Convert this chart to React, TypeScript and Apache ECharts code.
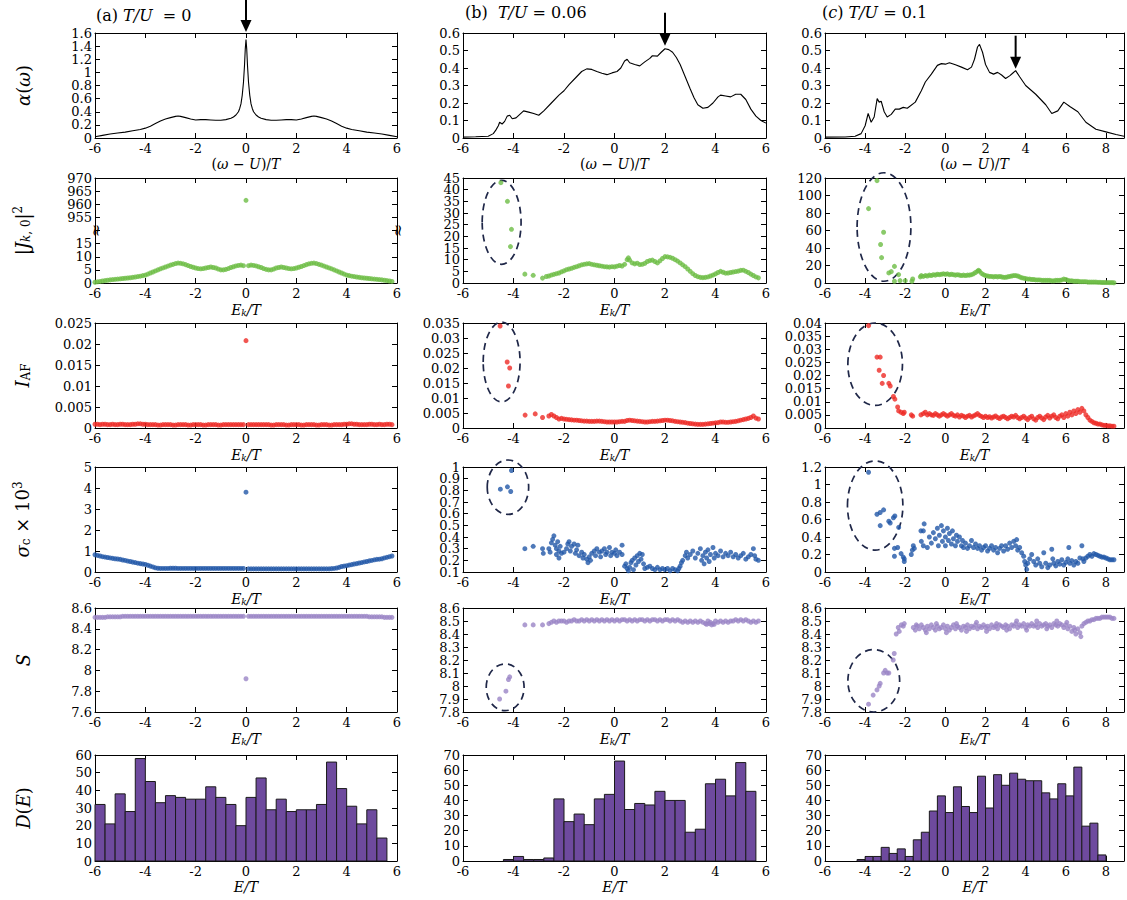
import React, { useEffect, useRef } from "react";
import * as echarts from "echarts";

// ---------------- data ----------------
// row 1: spectral function alpha(omega)
const alphaA: number[][] = [[-6,0.02],[-5.7,0.04],[-5.4,0.06],[-5.1,0.075],[-4.8,0.09],[-4.5,0.11],[-4.2,0.13],[-4,0.15],[-3.8,0.18],[-3.6,0.22],[-3.4,0.26],[-3.2,0.29],[-3,0.31],[-2.8,0.33],[-2.7,0.335],[-2.6,0.33],[-2.4,0.31],[-2.2,0.29],[-2,0.275],[-1.8,0.28],[-1.6,0.28],[-1.4,0.275],[-1.2,0.27],[-1,0.27],[-0.8,0.28],[-0.6,0.3],[-0.5,0.32],[-0.4,0.35],[-0.3,0.4],[-0.25,0.45],[-0.2,0.52],[-0.15,0.65],[-0.1,0.85],[-0.06,1.1],[-0.03,1.35],[0,1.5],[0.03,1.35],[0.06,1.1],[0.1,0.85],[0.15,0.65],[0.2,0.52],[0.25,0.45],[0.3,0.4],[0.4,0.35],[0.5,0.32],[0.6,0.3],[0.8,0.28],[1,0.27],[1.2,0.27],[1.4,0.275],[1.6,0.28],[1.8,0.28],[2,0.275],[2.2,0.29],[2.4,0.31],[2.6,0.33],[2.7,0.335],[2.8,0.33],[3,0.31],[3.2,0.29],[3.4,0.26],[3.6,0.22],[3.8,0.18],[4,0.15],[4.2,0.13],[4.5,0.11],[4.8,0.09],[5.1,0.075],[5.4,0.06],[5.7,0.04],[6,0.02]];
const alphaB: number[][] = [[-6,0.005],[-5.5,0.007],[-5,0.01],[-4.8,0.025],[-4.7,0.045],[-4.6,0.07],[-4.55,0.09],[-4.45,0.08],[-4.35,0.095],[-4.25,0.125],[-4.15,0.13],[-4.05,0.11],[-3.9,0.115],[-3.75,0.135],[-3.6,0.155],[-3.4,0.148],[-3.2,0.14],[-3,0.13],[-2.8,0.155],[-2.5,0.2],[-2.2,0.245],[-2,0.27],[-1.8,0.305],[-1.5,0.35],[-1.3,0.38],[-1.1,0.395],[-0.9,0.392],[-0.7,0.38],[-0.5,0.37],[-0.3,0.362],[-0.1,0.372],[0.1,0.38],[0.25,0.4],[0.4,0.44],[0.5,0.45],[0.6,0.43],[0.8,0.42],[1,0.412],[1.2,0.435],[1.4,0.455],[1.5,0.47],[1.7,0.468],[1.85,0.49],[2,0.51],[2.15,0.505],[2.3,0.49],[2.45,0.46],[2.6,0.42],[2.8,0.35],[3,0.28],[3.15,0.23],[3.3,0.19],[3.5,0.17],[3.7,0.175],[3.9,0.2],[4.1,0.235],[4.2,0.245],[4.4,0.24],[4.6,0.235],[4.8,0.25],[5,0.25],[5.2,0.22],[5.4,0.165],[5.6,0.125],[5.8,0.1],[6,0.085]];
const alphaC: number[][] = [[-6,0.005],[-5,0.006],[-4.5,0.01],[-4.2,0.025],[-4,0.07],[-3.85,0.14],[-3.7,0.09],[-3.55,0.12],[-3.4,0.225],[-3.3,0.205],[-3.2,0.21],[-3.05,0.15],[-2.9,0.12],[-2.7,0.135],[-2.5,0.165],[-2.3,0.165],[-2.1,0.175],[-1.9,0.17],[-1.5,0.205],[-1.2,0.27],[-1,0.32],[-0.7,0.365],[-0.4,0.415],[-0.2,0.425],[0,0.422],[0.2,0.43],[0.5,0.418],[0.8,0.405],[1.1,0.39],[1.3,0.405],[1.45,0.45],[1.6,0.52],[1.7,0.535],[1.85,0.49],[2,0.42],[2.2,0.375],[2.4,0.365],[2.6,0.375],[2.8,0.36],[3,0.34],[3.2,0.355],[3.35,0.37],[3.5,0.385],[3.7,0.35],[4,0.3],[4.5,0.25],[5,0.19],[5.3,0.14],[5.6,0.155],[5.9,0.205],[6.2,0.18],[6.6,0.15],[7,0.09],[7.5,0.05],[8,0.035],[8.5,0.02],[8.9,0.01]];
const arrowTips: number[][] = [[0, 1.615], [2, 0.527], [3.5, 0.396]];

// row 2: |J_{k,0}|^2
const jA: number[][] = [[-6,0.3],[-5.9,0.45],[-5.8,0.6],[-5.7,0.75],[-5.6,0.9],[-5.5,1.05],[-5.4,1.2],[-5.3,1.3],[-5.2,1.4],[-5.1,1.5],[-5,1.6],[-4.9,1.7],[-4.8,1.8],[-4.7,1.9],[-4.6,2],[-4.5,2.15],[-4.4,2.3],[-4.3,2.45],[-4.2,2.6],[-4.1,2.8],[-4,3],[-3.9,3.4],[-3.8,3.8],[-3.7,4.2],[-3.6,4.6],[-3.5,5],[-3.4,5.4],[-3.3,5.75],[-3.2,6.1],[-3.1,6.45],[-3,6.8],[-2.9,7.1],[-2.8,7.4],[-2.7,7.6],[-2.6,7.5],[-2.5,7.3],[-2.4,7],[-2.3,6.65],[-2.2,6.3],[-2.1,6],[-2,5.7],[-1.9,5.5],[-1.8,5.4],[-1.7,5.5],[-1.6,5.7],[-1.5,5.9],[-1.4,6.1],[-1.3,5.9],[-1.2,5.7],[-1.1,5.3],[-1,5],[-0.9,5],[-0.8,5.2],[-0.7,5.5],[-0.6,5.9],[-0.5,6.2],[-0.4,6.5],[-0.3,6.7],[-0.2,6.8],[-0.1,6.6],[0,961.5],[0.1,6.6],[0.2,6.8],[0.3,6.7],[0.4,6.5],[0.5,6.2],[0.6,5.9],[0.7,5.5],[0.8,5.2],[0.9,5],[1,5],[1.1,5.3],[1.2,5.7],[1.3,5.9],[1.4,6.1],[1.5,5.9],[1.6,5.7],[1.7,5.5],[1.8,5.4],[1.9,5.5],[2,5.7],[2.1,6],[2.2,6.3],[2.3,6.65],[2.4,7],[2.5,7.3],[2.6,7.5],[2.7,7.6],[2.8,7.4],[2.9,7.1],[3,6.8],[3.1,6.45],[3.2,6.1],[3.3,5.75],[3.4,5.4],[3.5,5],[3.6,4.6],[3.7,4.2],[3.8,3.8],[3.9,3.4],[4,3],[4.1,2.8],[4.2,2.6],[4.3,2.45],[4.4,2.3],[4.5,2.15],[4.6,2],[4.7,1.9],[4.8,1.8],[4.9,1.7],[5,1.6],[5.1,1.5],[5.2,1.4],[5.3,1.3],[5.4,1.2],[5.5,1.05],[5.6,0.9],[5.7,0.75],[5.8,0.6]];
const jB: number[][] = [[-4.5,43],[-4.24,35],[-4.08,23],[-4.12,15.6],[-3.55,3.8],[-3.22,3.3],[-2.85,2.1],[-2.7,2.8],[-2.6,3],[-2.5,3.4],[-2.4,3.7],[-2.3,4],[-2.2,4.3],[-2.1,4.8],[-2,5.2],[-1.9,5.7],[-1.8,6],[-1.7,6.3],[-1.6,6.7],[-1.5,7],[-1.4,7.4],[-1.3,7.8],[-1.2,8],[-1.1,8.2],[-1,8.3],[-0.9,8],[-0.8,7.8],[-0.7,7.6],[-0.6,7.4],[-0.5,7.2],[-0.4,7],[-0.3,6.9],[-0.2,6.8],[-0.1,7],[0,6.9],[0.1,7.2],[0.2,7.5],[0.3,7.3],[0.4,8],[0.5,10],[0.55,10.8],[0.6,9.8],[0.7,8.6],[0.8,8.2],[0.9,8.5],[1,7.9],[1.1,8],[1.2,8.4],[1.3,9.2],[1.4,9.6],[1.5,9.8],[1.6,9.2],[1.7,8.6],[1.8,9.5],[1.9,10.5],[2,11.3],[2.1,11.2],[2.2,11],[2.3,10.6],[2.4,10],[2.5,9.4],[2.6,8.6],[2.7,7.8],[2.8,7],[2.9,6],[3,5],[3.1,4],[3.2,3.2],[3.3,2.7],[3.4,2.4],[3.5,2.3],[3.6,2.4],[3.7,2.6],[3.8,3],[3.9,3.4],[4,3.9],[4.1,4.5],[4.2,5],[4.3,4.6],[4.4,4.2],[4.5,4.3],[4.6,4.5],[4.7,4.7],[4.8,4.9],[4.9,5.1],[5,5.4],[5.1,5.5],[5.2,5],[5.3,4.5],[5.4,3.8],[5.5,3.2],[5.6,2.6],[5.7,2.2]];
const jC: number[][] = [[-3.41,117],[-3.83,85],[-3.08,58],[-3.23,44],[-3.18,29],[-2.82,11.5],[-2.7,13],[-2.54,19],[-2.54,2],[-2.33,9.6],[-2.26,2.7],[-2,2.7],[-1.63,4.6],[-1.67,2],[-1.25,7],[-1.2,8.5],[-1.1,7.5],[-1,8.5],[-0.9,8],[-0.8,9],[-0.7,8.5],[-0.6,9.5],[-0.5,9],[-0.4,10],[-0.3,9.5],[-0.2,10],[-0.1,10.5],[0,10],[0.1,10.5],[0.2,9.5],[0.3,10],[0.4,9.5],[0.5,9],[0.6,9.5],[0.7,9],[0.8,8.5],[0.9,9],[1,8.5],[1.1,9],[1.2,9],[1.3,9.5],[1.4,10.5],[1.5,12],[1.6,13.5],[1.65,14.5],[1.7,13.5],[1.8,11],[1.9,9.5],[2,8.5],[2.1,8],[2.2,7.5],[2.3,7.5],[2.4,7],[2.5,7.5],[2.6,7],[2.7,7.5],[2.8,7],[2.9,6.5],[3,6.5],[3.1,7],[3.2,7.5],[3.3,8],[3.4,8.5],[3.5,8.5],[3.6,8],[3.7,7],[3.8,6],[3.9,5.5],[4,5],[4.1,4.5],[4.2,4.5],[4.3,4],[4.4,4],[4.5,3.5],[4.6,3.5],[4.7,3.5],[4.8,3],[4.9,3],[5,3],[5.1,3],[5.2,3],[5.3,2.5],[5.4,2.5],[5.5,3],[5.6,3],[5.7,3],[5.8,3.5],[5.9,4.5],[6,4],[6.1,3],[6.2,2.5],[6.3,2.5],[6.4,2],[6.5,2],[6.6,2],[6.7,1.5],[6.8,1.5],[6.9,1.5],[7,1.5],[7.1,1],[7.2,1],[7.3,1],[7.4,1],[7.5,1],[7.6,0.8],[7.7,0.8],[7.8,0.6],[7.9,0.6],[8,0.5],[8.1,0.5],[8.2,0.4],[8.3,0.4],[8.4,0.3]];

// row 3: I_AF
const iA: number[][] = [[-6,0.0009],[-5.9,0.0009],[-5.8,0.0008],[-5.7,0.0009],[-5.6,0.0009],[-5.5,0.0008],[-5.4,0.0008],[-5.3,0.0009],[-5.2,0.0008],[-5.1,0.0008],[-5,0.0009],[-4.9,0.0009],[-4.8,0.0008],[-4.7,0.0008],[-4.6,0.0008],[-4.5,0.0009],[-4.4,0.0009],[-4.3,0.001],[-4.2,0.001],[-4.1,0.0009],[-4,0.0009],[-3.9,0.0008],[-3.8,0.0008],[-3.7,0.0008],[-3.6,0.0008],[-3.5,0.0007],[-3.4,0.0007],[-3.3,0.0008],[-3.2,0.0008],[-3.1,0.0008],[-3,0.0008],[-2.9,0.0007],[-2.8,0.0007],[-2.7,0.0008],[-2.6,0.0008],[-2.5,0.0008],[-2.4,0.0008],[-2.3,0.0007],[-2.2,0.0007],[-2.1,0.0008],[-2,0.0008],[-1.9,0.0008],[-1.8,0.0008],[-1.7,0.0007],[-1.6,0.0007],[-1.5,0.0008],[-1.4,0.0008],[-1.3,0.0008],[-1.2,0.0008],[-1.1,0.0007],[-1,0.0007],[-0.9,0.0008],[-0.8,0.0008],[-0.7,0.0008],[-0.6,0.0008],[-0.5,0.0008],[-0.4,0.0008],[-0.3,0.0008],[-0.2,0.0008],[-0.1,0.0008],[0,0.0208],[0.1,0.0008],[0.2,0.0008],[0.3,0.0008],[0.4,0.0008],[0.5,0.0008],[0.6,0.0008],[0.7,0.0008],[0.8,0.0008],[0.9,0.0008],[1,0.0007],[1.1,0.0007],[1.2,0.0008],[1.3,0.0008],[1.4,0.0008],[1.5,0.0008],[1.6,0.0007],[1.7,0.0007],[1.8,0.0008],[1.9,0.0008],[2,0.0008],[2.1,0.0008],[2.2,0.0007],[2.3,0.0007],[2.4,0.0008],[2.5,0.0008],[2.6,0.0008],[2.7,0.0008],[2.8,0.0007],[2.9,0.0007],[3,0.0008],[3.1,0.0008],[3.2,0.0008],[3.3,0.0007],[3.4,0.0007],[3.5,0.0008],[3.6,0.0008],[3.7,0.0008],[3.8,0.0008],[3.9,0.0009],[4,0.0009],[4.1,0.001],[4.2,0.001],[4.3,0.0009],[4.4,0.0009],[4.5,0.0008],[4.6,0.0008],[4.7,0.0008],[4.8,0.0008],[4.9,0.0009],[5,0.0009],[5.1,0.0008],[5.2,0.0008],[5.3,0.0009],[5.4,0.0008],[5.5,0.0008],[5.6,0.0009],[5.7,0.0009],[5.8,0.0008]];
const iB: number[][] = [[-4.53,0.034],[-4.25,0.022],[-4.15,0.02],[-4.2,0.014],[-3.54,0.0043],[-3.14,0.0047],[-2.85,0.0035],[-2.6,0.004],[-2.5,0.0045],[-2.4,0.004],[-2.3,0.0035],[-2.2,0.003],[-2.1,0.0032],[-2,0.003],[-1.9,0.0029],[-1.8,0.0028],[-1.7,0.0027],[-1.6,0.0026],[-1.5,0.0026],[-1.4,0.0025],[-1.3,0.0024],[-1.2,0.0023],[-1.1,0.0023],[-1,0.0022],[-0.9,0.0022],[-0.8,0.0022],[-0.7,0.0023],[-0.6,0.0023],[-0.5,0.0022],[-0.4,0.0021],[-0.3,0.002],[-0.2,0.002],[-0.1,0.002],[0,0.002],[0.1,0.002],[0.2,0.0021],[0.3,0.0022],[0.4,0.0022],[0.5,0.0025],[0.6,0.0026],[0.7,0.0025],[0.8,0.0024],[0.9,0.0023],[1,0.0022],[1.1,0.0021],[1.2,0.002],[1.3,0.002],[1.4,0.0021],[1.5,0.0022],[1.6,0.0022],[1.7,0.0023],[1.8,0.0024],[1.9,0.0025],[2,0.0026],[2.1,0.0026],[2.2,0.0025],[2.3,0.0024],[2.4,0.0022],[2.5,0.0021],[2.6,0.002],[2.7,0.0019],[2.8,0.0018],[2.9,0.0016],[3,0.0015],[3.1,0.0014],[3.2,0.0013],[3.3,0.0012],[3.4,0.0012],[3.5,0.0012],[3.6,0.0013],[3.7,0.0014],[3.8,0.0015],[3.9,0.0016],[4,0.0017],[4.1,0.0018],[4.2,0.002],[4.3,0.002],[4.4,0.0019],[4.5,0.0019],[4.6,0.002],[4.7,0.0021],[4.8,0.0022],[4.9,0.0024],[5,0.0026],[5.1,0.0028],[5.2,0.003],[5.3,0.0032],[5.4,0.0035],[5.5,0.004],[5.6,0.0033],[5.7,0.003]];
const iC: number[][] = [[-3.83,0.039],[-3.41,0.027],[-3.25,0.027],[-3.3,0.022],[-3.08,0.02],[-3.15,0.017],[-2.82,0.017],[-2.75,0.016],[-2.59,0.012],[-2.52,0.011],[-2.38,0.008],[-2.33,0.0065],[-2.21,0.006],[-2.1,0.0055],[-2.05,0.006],[-1.7,0.005],[-1.63,0.0045],[-1.22,0.005],[-1.1,0.0055],[-1,0.006],[-0.9,0.005],[-0.8,0.0055],[-0.7,0.005],[-0.6,0.0048],[-0.5,0.0055],[-0.4,0.005],[-0.3,0.0045],[-0.2,0.005],[-0.1,0.0055],[0,0.005],[0.1,0.0045],[0.2,0.005],[0.3,0.0055],[0.4,0.0048],[0.5,0.0045],[0.6,0.005],[0.7,0.0042],[0.8,0.0048],[0.9,0.0045],[1,0.004],[1.1,0.0045],[1.2,0.0048],[1.3,0.0042],[1.4,0.0046],[1.5,0.005],[1.6,0.0055],[1.7,0.0048],[1.8,0.0044],[1.9,0.004],[2,0.0045],[2.1,0.004],[2.2,0.0043],[2.3,0.0038],[2.4,0.0042],[2.5,0.0046],[2.6,0.004],[2.7,0.0036],[2.8,0.0042],[2.9,0.0045],[3,0.004],[3.1,0.0035],[3.2,0.004],[3.3,0.0045],[3.4,0.0042],[3.5,0.0048],[3.6,0.004],[3.7,0.0035],[3.8,0.004],[3.9,0.0045],[4,0.0038],[4.1,0.0032],[4.2,0.004],[4.3,0.0045],[4.4,0.0035],[4.5,0.003],[4.6,0.004],[4.7,0.0045],[4.8,0.0038],[4.9,0.0032],[5,0.0042],[5.1,0.0048],[5.2,0.0038],[5.3,0.0045],[5.4,0.005],[5.5,0.004],[5.6,0.0035],[5.7,0.0045],[5.8,0.005],[5.9,0.004],[6,0.0055],[6.1,0.0045],[6.2,0.006],[6.3,0.005],[6.4,0.0065],[6.5,0.0055],[6.6,0.007],[6.7,0.006],[6.8,0.0075],[6.9,0.0065],[7,0.005],[7.1,0.004],[7.2,0.003],[7.3,0.0025],[7.4,0.002],[7.5,0.0018],[7.6,0.0015],[7.7,0.0015],[7.8,0.0012],[7.9,0.001],[8,0.001],[8.1,0.0008],[8.2,0.0008],[8.3,0.0007],[8.4,0.0007]];

// row 4: sigma_c x 10^3
const sigA: number[][] = [[-6,0.82],[-5.9,0.79],[-5.8,0.76],[-5.7,0.73],[-5.6,0.71],[-5.5,0.69],[-5.4,0.67],[-5.3,0.65],[-5.2,0.63],[-5.1,0.62],[-5,0.6],[-4.9,0.57],[-4.8,0.55],[-4.7,0.52],[-4.6,0.5],[-4.5,0.47],[-4.4,0.45],[-4.3,0.42],[-4.2,0.4],[-4.1,0.38],[-4,0.36],[-3.9,0.32],[-3.8,0.28],[-3.7,0.24],[-3.6,0.2],[-3.5,0.18],[-3.4,0.17],[-3.3,0.17],[-3.2,0.17],[-3.1,0.17],[-3,0.18],[-2.9,0.18],[-2.8,0.18],[-2.7,0.17],[-2.6,0.17],[-2.5,0.17],[-2.4,0.17],[-2.3,0.17],[-2.2,0.17],[-2.1,0.17],[-2,0.17],[-1.9,0.17],[-1.8,0.17],[-1.7,0.17],[-1.6,0.17],[-1.5,0.17],[-1.4,0.17],[-1.3,0.17],[-1.2,0.17],[-1.1,0.17],[-1,0.17],[-0.9,0.17],[-0.8,0.17],[-0.7,0.17],[-0.6,0.17],[-0.5,0.17],[-0.4,0.17],[-0.3,0.17],[-0.2,0.17],[-0.1,0.17],[0,3.8],[0.1,0.15],[0.2,0.15],[0.3,0.15],[0.4,0.15],[0.5,0.15],[0.6,0.15],[0.7,0.15],[0.8,0.15],[0.9,0.15],[1,0.15],[1.1,0.15],[1.2,0.15],[1.3,0.15],[1.4,0.15],[1.5,0.15],[1.6,0.15],[1.7,0.15],[1.8,0.15],[1.9,0.15],[2,0.15],[2.1,0.15],[2.2,0.15],[2.3,0.15],[2.4,0.15],[2.5,0.15],[2.6,0.15],[2.7,0.15],[2.8,0.15],[2.9,0.15],[3,0.15],[3.1,0.15],[3.2,0.15],[3.3,0.15],[3.4,0.16],[3.5,0.17],[3.6,0.19],[3.7,0.22],[3.8,0.26],[3.9,0.28],[4,0.3],[4.1,0.33],[4.2,0.35],[4.3,0.38],[4.4,0.4],[4.5,0.43],[4.6,0.45],[4.7,0.48],[4.8,0.5],[4.9,0.53],[5,0.55],[5.1,0.58],[5.2,0.6],[5.3,0.61],[5.4,0.63],[5.5,0.67],[5.6,0.7],[5.7,0.73],[5.8,0.76]];
const sigB: number[][] = [[-4.52,0.81],[-4.24,0.83],[-4.11,0.79],[-4.08,0.97],[-3.55,0.3],[-3.22,0.32],[-2.85,0.3],[-2.82,0.26],[-2.6,0.3],[-2.55,0.27],[-2.5,0.35],[-2.45,0.38],[-2.4,0.41],[-2.35,0.33],[-2.3,0.25],[-2.3,0.3],[-2.25,0.36],[-2.2,0.28],[-2.2,0.22],[-2.15,0.32],[-2.1,0.26],[-2,0.27],[-1.9,0.3],[-1.85,0.34],[-1.8,0.36],[-1.75,0.28],[-1.7,0.32],[-1.6,0.34],[-1.55,0.26],[-1.5,0.29],[-1.45,0.33],[-1.4,0.24],[-1.3,0.27],[-1.25,0.22],[-1.2,0.25],[-1.1,0.21],[-1.05,0.18],[-1,0.23],[-0.95,0.2],[-0.9,0.26],[-0.8,0.28],[-0.75,0.24],[-0.7,0.3],[-0.6,0.27],[-0.55,0.23],[-0.5,0.28],[-0.4,0.3],[-0.35,0.25],[-0.3,0.27],[-0.2,0.31],[-0.15,0.24],[-0.1,0.27],[0,0.26],[0.05,0.29],[0.1,0.24],[0.2,0.27],[0.3,0.33],[0.3,0.25],[0.4,0.15],[0.45,0.17],[0.5,0.13],[0.55,0.11],[0.6,0.14],[0.65,0.18],[0.7,0.2],[0.75,0.12],[0.8,0.22],[0.85,0.16],[0.9,0.24],[0.95,0.19],[1,0.26],[1.05,0.21],[1.1,0.25],[1.15,0.17],[1.2,0.13],[1.3,0.14],[1.4,0.15],[1.5,0.13],[1.6,0.12],[1.7,0.14],[1.8,0.12],[1.9,0.13],[2,0.12],[2.1,0.13],[2.2,0.11],[2.3,0.13],[2.4,0.12],[2.5,0.11],[2.55,0.13],[2.6,0.15],[2.65,0.18],[2.7,0.2],[2.8,0.24],[2.85,0.27],[2.9,0.22],[3,0.25],[3.1,0.28],[3.2,0.22],[3.3,0.26],[3.4,0.3],[3.45,0.2],[3.5,0.24],[3.55,0.17],[3.6,0.27],[3.65,0.22],[3.7,0.29],[3.75,0.19],[3.8,0.25],[3.9,0.31],[3.95,0.22],[4,0.26],[4.1,0.24],[4.2,0.28],[4.3,0.23],[4.4,0.26],[4.5,0.24],[4.6,0.27],[4.7,0.23],[4.8,0.25],[4.9,0.22],[5,0.24],[5.1,0.26],[5.2,0.21],[5.3,0.23],[5.4,0.25],[5.5,0.3],[5.55,0.24],[5.6,0.21],[5.7,0.2]];
const sigC: number[][] = [[-3.83,1.14],[-3.41,0.66],[-3.25,0.68],[-3.08,0.71],[-3.25,0.53],[-2.82,0.58],[-2.75,0.56],[-2.59,0.62],[-2.52,0.64],[-2.33,0.51],[-2.54,0.27],[-2.38,0.28],[-2.54,0.18],[-2.21,0.21],[-2.1,0.17],[-2.05,0.15],[-2.05,0.12],[-1.7,0.2],[-1.65,0.25],[-1.6,0.3],[-1.55,0.27],[-1.22,0.47],[-1.1,0.47],[-1.06,0.55],[-1.2,0.35],[-1.1,0.3],[-0.9,0.28],[-0.8,0.4],[-0.7,0.33],[-0.6,0.45],[-0.5,0.38],[-0.4,0.5],[-0.35,0.3],[-0.3,0.42],[-0.2,0.53],[-0.15,0.35],[-0.1,0.47],[0,0.4],[0,0.3],[0.1,0.5],[0.15,0.36],[0.2,0.44],[0.3,0.32],[0.35,0.47],[0.4,0.38],[0.5,0.3],[0.55,0.42],[0.6,0.35],[0.7,0.4],[0.8,0.3],[0.85,0.36],[0.9,0.28],[1,0.33],[1.1,0.27],[1.2,0.3],[1.3,0.36],[1.4,0.28],[1.5,0.32],[1.6,0.27],[1.7,0.3],[1.8,0.25],[1.9,0.28],[2,0.3],[2.1,0.24],[2.2,0.27],[2.3,0.3],[2.4,0.25],[2.5,0.28],[2.6,0.22],[2.7,0.27],[2.8,0.3],[2.9,0.24],[3,0.3],[3.1,0.26],[3.2,0.33],[3.3,0.28],[3.4,0.35],[3.5,0.3],[3.55,0.37],[3.6,0.25],[3.7,0.28],[3.8,0.22],[3.9,0.18],[3.95,0.12],[4,0.08],[4.05,0.03],[4.1,0.1],[4.2,0.15],[4.3,0.2],[4.4,0.12],[4.5,0.08],[4.6,0.15],[4.7,0.1],[4.8,0.06],[4.9,0.22],[5,0.1],[5.1,0.05],[5.2,0.08],[5.3,0.26],[5.35,0.15],[5.4,0.1],[5.5,0.07],[5.6,0.12],[5.7,0.09],[5.8,0.14],[5.9,0.08],[6,0.11],[6.1,0.15],[6.15,0.28],[6.2,0.1],[6.3,0.13],[6.4,0.08],[6.5,0.12],[6.6,0.1],[6.7,0.16],[6.8,0.3],[6.85,0.15],[6.9,0.12],[7,0.16],[7.1,0.18],[7.2,0.2],[7.3,0.18],[7.4,0.21],[7.5,0.2],[7.6,0.19],[7.7,0.18],[7.8,0.17],[7.9,0.17],[8,0.16],[8.1,0.15],[8.2,0.14],[8.3,0.14],[8.4,0.14]];

// row 5: S
const sA: number[][] = [[-6,8.51],[-5.9,8.51],[-5.8,8.51],[-5.7,8.51],[-5.6,8.51],[-5.5,8.515],[-5.4,8.515],[-5.3,8.515],[-5.2,8.515],[-5.1,8.515],[-5,8.515],[-4.9,8.52],[-4.8,8.52],[-4.7,8.52],[-4.6,8.52],[-4.5,8.52],[-4.4,8.52],[-4.3,8.52],[-4.2,8.52],[-4.1,8.52],[-4,8.52],[-3.9,8.52],[-3.8,8.52],[-3.7,8.52],[-3.6,8.52],[-3.5,8.52],[-3.4,8.52],[-3.3,8.52],[-3.2,8.52],[-3.1,8.52],[-3,8.52],[-2.9,8.52],[-2.8,8.52],[-2.7,8.52],[-2.6,8.52],[-2.5,8.52],[-2.4,8.52],[-2.3,8.52],[-2.2,8.52],[-2.1,8.52],[-2,8.52],[-1.9,8.52],[-1.8,8.52],[-1.7,8.52],[-1.6,8.52],[-1.5,8.52],[-1.4,8.52],[-1.3,8.52],[-1.2,8.52],[-1.1,8.52],[-1,8.52],[-0.9,8.52],[-0.8,8.52],[-0.7,8.52],[-0.6,8.52],[-0.5,8.52],[-0.4,8.52],[-0.3,8.52],[-0.2,8.52],[-0.1,8.52],[0,7.92],[0.1,8.52],[0.2,8.52],[0.3,8.52],[0.4,8.52],[0.5,8.52],[0.6,8.52],[0.7,8.52],[0.8,8.52],[0.9,8.52],[1,8.52],[1.1,8.52],[1.2,8.52],[1.3,8.52],[1.4,8.52],[1.5,8.52],[1.6,8.52],[1.7,8.52],[1.8,8.52],[1.9,8.52],[2,8.52],[2.1,8.52],[2.2,8.52],[2.3,8.52],[2.4,8.52],[2.5,8.52],[2.6,8.52],[2.7,8.52],[2.8,8.52],[2.9,8.52],[3,8.52],[3.1,8.52],[3.2,8.52],[3.3,8.52],[3.4,8.52],[3.5,8.52],[3.6,8.52],[3.7,8.52],[3.8,8.52],[3.9,8.52],[4,8.52],[4.1,8.52],[4.2,8.52],[4.3,8.52],[4.4,8.52],[4.5,8.52],[4.6,8.52],[4.7,8.52],[4.8,8.52],[4.9,8.515],[5,8.515],[5.1,8.515],[5.2,8.515],[5.3,8.515],[5.4,8.515],[5.5,8.51],[5.6,8.51],[5.7,8.51],[5.8,8.51]];
const sB: number[][] = [[-4.55,7.9],[-4.3,7.96],[-4.2,8.05],[-4.15,8.07],[-3.55,8.47],[-3.22,8.47],[-2.85,8.47],[-2.6,8.48],[-2.5,8.49],[-2.4,8.5],[-2.3,8.49],[-2.2,8.5],[-2.1,8.5],[-2,8.5],[-1.9,8.49],[-1.8,8.5],[-1.7,8.5],[-1.6,8.51],[-1.5,8.5],[-1.4,8.5],[-1.3,8.51],[-1.2,8.5],[-1.1,8.51],[-1,8.5],[-0.9,8.51],[-0.8,8.5],[-0.7,8.51],[-0.6,8.5],[-0.5,8.51],[-0.4,8.5],[-0.3,8.51],[-0.2,8.5],[-0.1,8.51],[0,8.5],[0.1,8.51],[0.2,8.5],[0.3,8.51],[0.4,8.51],[0.5,8.5],[0.6,8.51],[0.7,8.5],[0.8,8.51],[0.9,8.5],[1,8.51],[1.1,8.51],[1.2,8.5],[1.3,8.51],[1.4,8.5],[1.5,8.51],[1.6,8.51],[1.7,8.5],[1.8,8.51],[1.9,8.5],[2,8.51],[2.1,8.51],[2.2,8.5],[2.3,8.51],[2.4,8.5],[2.5,8.51],[2.6,8.5],[2.7,8.49],[2.8,8.5],[2.9,8.49],[3,8.5],[3.1,8.49],[3.2,8.5],[3.3,8.49],[3.4,8.5],[3.5,8.49],[3.6,8.48],[3.7,8.5],[3.8,8.49],[3.9,8.48],[4,8.5],[4.1,8.49],[4.2,8.5],[4.3,8.49],[4.4,8.5],[4.5,8.49],[4.6,8.5],[4.7,8.5],[4.8,8.51],[4.9,8.5],[5,8.51],[5.1,8.5],[5.2,8.51],[5.3,8.5],[5.4,8.49],[5.5,8.5],[5.6,8.49],[5.7,8.5],[3.65,8.475],[3.75,8.48],[3.85,8.47],[3.95,8.475]];
const sC: number[][] = [[-3.83,7.86],[-3.6,7.93],[-3.41,7.97],[-3.3,8],[-3.25,8.02],[-3.08,8.1],[-3,8.12],[-2.9,8.1],[-2.82,8.1],[-2.6,8.2],[-2.55,8.25],[-2.45,8.4],[-2.35,8.45],[-2.3,8.42],[-2.2,8.47],[-2.1,8.46],[-2.05,8.48],[-1.6,8.45],[-1.5,8.43],[-1.4,8.46],[-1.3,8.44],[-1.2,8.47],[-1.1,8.45],[-1,8.43],[-0.9,8.46],[-0.8,8.44],[-0.7,8.47],[-0.6,8.45],[-0.5,8.43],[-0.4,8.46],[-0.3,8.44],[-0.2,8.45],[-0.1,8.47],[0,8.44],[0.1,8.46],[0.2,8.43],[0.3,8.45],[0.4,8.47],[0.5,8.44],[0.6,8.46],[0.7,8.45],[0.8,8.43],[0.9,8.46],[1,8.45],[1.1,8.47],[1.2,8.44],[1.3,8.46],[1.4,8.45],[1.5,8.47],[1.6,8.44],[1.7,8.46],[1.8,8.45],[1.9,8.47],[2,8.45],[2.1,8.46],[2.2,8.44],[2.3,8.47],[2.4,8.45],[2.5,8.46],[2.6,8.44],[2.7,8.47],[2.8,8.46],[2.9,8.45],[3,8.47],[3.1,8.46],[3.2,8.44],[3.3,8.47],[3.4,8.46],[3.5,8.48],[3.6,8.45],[3.7,8.47],[3.8,8.46],[3.9,8.48],[4,8.45],[4.1,8.47],[4.2,8.46],[4.3,8.48],[4.4,8.46],[4.5,8.47],[4.6,8.45],[4.7,8.48],[4.8,8.46],[4.9,8.47],[5,8.48],[5.1,8.46],[5.2,8.47],[5.3,8.45],[5.4,8.48],[5.5,8.47],[5.6,8.46],[5.7,8.48],[5.8,8.47],[5.9,8.45],[6,8.47],[6.1,8.44],[6.2,8.46],[6.3,8.42],[6.4,8.45],[6.5,8.4],[6.6,8.44],[6.7,8.41],[6.8,8.46],[6.9,8.48],[7,8.49],[7.1,8.5],[7.2,8.5],[7.3,8.51],[7.4,8.51],[7.5,8.52],[7.6,8.52],[7.7,8.52],[7.8,8.53],[7.9,8.53],[8,8.53],[8.1,8.53],[8.2,8.53],[8.3,8.52],[8.4,8.52],[-1.45,8.47],[-0.95,8.41],[-0.45,8.48],[0.05,8.41],[0.55,8.48],[1.05,8.42],[1.55,8.49],[2.05,8.42],[2.55,8.48],[3.05,8.43],[3.55,8.5],[4.05,8.43],[4.55,8.5],[5.05,8.44],[5.55,8.5],[6.05,8.49],[6.45,8.43],[6.75,8.38]];

// row 6: D(E) histograms (bin start, bin width 0.4, counts)
const BIN_W = 0.4;
const histStartA = -6;
const histA = [32,21,38,28,58,45,33,37,36,35,35,42,36,32,20,36,47,29,35,28,29,29,32,56,41,31,21,29,13];
const histStartB = -4.4;
const histB = [1,3,1,1,2,41,26,31,24,41,44,66,34,38,37,46,40,40,19,21,51,54,43,65,46];
const histStartC = -4.4;
const histC = [1,3,3,9,5,8,3,14,19,33,43,32,49,36,32,56,35,57,50,58,54,53,53,45,41,51,43,62,23,25,4];

// dashed ellipses around the outlier states: [cx, cy, rx, ry]
const ellJ = [[-4.47, 26, 0.77, 18], [-3.06, 64, 1.34, 62]];
const ellI = [[-4.47, 0.022, 0.73, 0.0133], [-3.5, 0.0243, 1.36, 0.0157]];
const ellSig = [[-4.22, 0.827, 0.82, 0.233], [-3.5, 0.76, 1.38, 0.51]];
const ellS = [[-4.33, 7.99, 0.75, 0.18], [-3.57, 8.04, 1.29, 0.24]];

// ---------------- layout ----------------
const COLS = [
  { left: 95, width: 302 },
  { left: 463, width: 303 },
  { left: 825, width: 301 },
];
const ROWS = [
  { top: 33, height: 105 },
  { top: 178, height: 105 },
  { top: 323, height: 105 },
  { top: 467, height: 105 },
  { top: 608, height: 104 },
  { top: 755, height: 106 },
];
const X_MAX = [6, 6, 8.9];
const Y_SPECS = [
  [[0, 1.6, 0.2], [0, 0.6, 0.1], [0, 0.6, 0.1]],
  [[0, 40, 5], [0, 45, 5], [0, 120, 20]],
  [[0, 0.025, 0.005], [0, 0.035, 0.005], [0, 0.04, 0.005]],
  [[0, 5, 1], [0.1, 1, 0.1], [0, 1.2, 0.2]],
  [[7.6, 8.6, 0.2], [7.8, 8.6, 0.1], [7.8, 8.6, 0.1]],
  [[0, 60, 10], [0, 70, 10], [0, 70, 10]],
];
// crowded y axes whose tick labels are drawn as text marks (so none get auto-hidden)
const CROWDED = ["1-0", "1-1", "3-1"];
const FONT = "'DejaVu Serif', 'Liberation Serif', serif";
const C_GREEN = "#6dbd45";
const C_RED = "#ee2b26";
const C_BLUE = "#2257a7";
const C_PURPLE = "#9a84c5";
const C_HIST = "#6e4a9e";
const C_ELL = "#1f2748";

const richBase = (size: number) => ({
  i: { fontFamily: FONT, fontStyle: "italic", fontSize: size, color: "#000" },
  n: { fontFamily: FONT, fontSize: size, color: "#000" },
  sub: { fontFamily: FONT, fontStyle: "italic", fontSize: Math.round(size * 0.65), color: "#000", verticalAlign: "bottom", padding: [Math.round(size * 0.45), 0, 0, 0] },
  subn: { fontFamily: FONT, fontSize: Math.round(size * 0.65), color: "#000", verticalAlign: "bottom", padding: [Math.round(size * 0.45), 0, 0, 0] },
  sup: { fontFamily: FONT, fontSize: Math.round(size * 0.65), color: "#000", verticalAlign: "top", padding: [0, 0, Math.round(size * 0.45), 0] },
});

const X_NAMES = [
  "{n|(}{i|ω}{n| − }{i|U}{n|)/}{i|T}",
  "{i|E}{sub|k}{i|/T}",
  "{i|E}{sub|k}{i|/T}",
  "{i|E}{sub|k}{i|/T}",
  "{i|E}{sub|k}{i|/T}",
  "{i|E/T}",
];
const Y_NAMES = [
  "{i|α}{n|(}{i|ω}{n|)}",
  "{n||}{i|J}{sub|k}{subn|, 0}{n||}{sup|2}",
  "{i|I}{subn|AF}",
  "{i|σ}{subn|c}{n| × 10}{sup|3}",
  "{i|S}",
  "{i|D}{n|(}{i|E}{n|)}",
];

function brokenToDisplay(v: number) {
  return v > 900 ? v - 930 : v;
}

function fmt(v: number) {
  return String(Math.round(v * 100000) / 100000);
}

const ellipseItem = (params: any, api: any) => {
  const cx = api.value(0), cy = api.value(1), rx = api.value(2), ry = api.value(3);
  const c = api.coord([cx, cy]);
  const e = api.coord([cx + rx, cy + ry]);
  return {
    type: "ellipse",
    shape: { cx: c[0], cy: c[1], rx: Math.abs(e[0] - c[0]), ry: Math.abs(c[1] - e[1]) },
    style: { fill: "none", stroke: C_ELL, lineWidth: 1.7, lineDash: [7, 5] },
  };
};

const arrowItem = (params: any, api: any) => {
  const p = api.coord([api.value(0), api.value(1)]);
  const len = 33;
  return {
    type: "group",
    children: [
      { type: "line", shape: { x1: p[0], y1: p[1] - len, x2: p[0], y2: p[1] - 10 }, style: { stroke: "#000", lineWidth: 2 } },
      { type: "polygon", shape: { points: [[p[0] - 5.5, p[1] - 12], [p[0] + 5.5, p[1] - 12], [p[0], p[1]]] }, style: { fill: "#000" } },
    ],
  };
};

const histItem = (params: any, api: any) => {
  const p0 = api.coord([api.value(0), api.value(2)]);
  const p1 = api.coord([api.value(1), 0]);
  return {
    type: "rect",
    shape: { x: p0[0], y: p0[1], width: p1[0] - p0[0], height: p1[1] - p0[1] },
    style: { fill: C_HIST, stroke: "#1a1a1a", lineWidth: 1 },
  };
};

function buildOption() {
  const grid: any[] = [];
  const xAxis: any[] = [];
  const yAxis: any[] = [];
  const series: any[] = [];

  const scatterSets = [
    [jA.map((d) => [d[0], brokenToDisplay(d[1])]), jB, jC],
    [iA, iB, iC],
    [sigA, sigB, sigC],
    [sA, sB, sC],
  ];
  const scatterColors = [C_GREEN, C_RED, C_BLUE, C_PURPLE];
  const ellSets = [ellJ, ellI, ellSig, ellS];
  const alphas = [alphaA, alphaB, alphaC];
  const hists = [
    [histStartA, histA],
    [histStartB, histB],
    [histStartC, histC],
  ];

  for (let r = 0; r < 6; r++) {
    for (let c = 0; c < 3; c++) {
      const gi = r * 3 + c;
      grid.push({ left: COLS[c].left, width: COLS[c].width, top: ROWS[r].top, height: ROWS[r].height });
      const xMax = X_MAX[c];
      const [yMin, yMax, yInt] = Y_SPECS[r][c];
      const lineStyle = { color: "#000", width: 1 };
      const tick = { show: true, inside: true, length: 5, lineStyle: { color: "#000", width: 1 } };
      xAxis.push({
        gridIndex: gi, type: "value", position: "bottom", min: -6, max: xMax, interval: 2,
        axisLine: { onZero: false, lineStyle }, axisTick: tick, splitLine: { show: false },
        axisLabel: {
          color: "#000", fontFamily: FONT, fontSize: 13, margin: 4, showMinLabel: true, showMaxLabel: true,
          formatter: (v: number) => (Math.abs(v - Math.round(v / 2) * 2) < 1e-6 ? fmt(v) : ""),
        },
        name: X_NAMES[r], nameLocation: "middle", nameGap: 19,
        nameTextStyle: { fontFamily: FONT, fontSize: 14, color: "#000", rich: richBase(14) },
      });
      xAxis.push({
        gridIndex: gi, type: "value", position: "top", min: -6, max: xMax, interval: 2,
        axisLine: { onZero: false, lineStyle }, axisTick: tick, splitLine: { show: false },
        axisLabel: { show: false },
      });
      const isBroken = r === 1 && c === 0;
      const yFormatter = isBroken
        ? (v: number) => (v <= 15 ? fmt(v) : v >= 25 ? fmt(v + 930) : "")
        : (v: number) => fmt(v);
      const crowded = CROWDED.indexOf(r + "-" + c) >= 0;
      yAxis.push({
        gridIndex: gi, type: "value", position: "left", min: yMin, max: yMax, interval: yInt,
        axisLine: { onZero: false, lineStyle }, axisTick: tick, splitLine: { show: false },
        axisLabel: {
          show: !crowded, color: "#000", fontFamily: FONT, fontSize: 13, margin: 3,
          showMinLabel: true, showMaxLabel: true, formatter: yFormatter,
        },
        name: c === 0 ? Y_NAMES[r] : "", nameLocation: "middle", nameRotate: 90, nameGap: 63,
        nameTextStyle: { fontFamily: FONT, fontSize: 18, color: "#000", rich: richBase(18) },
      });
      yAxis.push({
        gridIndex: gi, type: "value", position: "right", min: yMin, max: yMax, interval: yInt,
        axisLine: { onZero: false, lineStyle }, axisTick: tick, splitLine: { show: false },
        axisLabel: { show: false },
      });
      const xi = gi * 2, yi = gi * 2;
      if (crowded) {
        const ticks: number[][] = [];
        const n = Math.round((yMax - yMin) / yInt);
        for (let k = 0; k <= n; k++) ticks.push([-6, yMin + k * yInt]);
        series.push({
          type: "custom", xAxisIndex: xi, yAxisIndex: yi, data: ticks, clip: false, silent: true,
          encode: { x: 0, y: 1 },
          renderItem: (params: any, api: any) => {
            const v = api.value(1);
            const p = api.coord([api.value(0), v]);
            const label = yFormatter(Math.round(v * 100000) / 100000);
            return {
              type: "text", x: p[0] - 3, y: p[1],
              style: { text: label, fontFamily: FONT, fontSize: 13, fill: "#000", align: "right", verticalAlign: "middle" },
            };
          },
        });
      }
      if (r === 0) {
        series.push({
          type: "line", xAxisIndex: xi, yAxisIndex: yi, data: alphas[c], showSymbol: false,
          lineStyle: { color: "#000", width: 1.1 }, silent: true,
        });
        series.push({
          type: "custom", xAxisIndex: xi, yAxisIndex: yi, data: [arrowTips[c]], renderItem: arrowItem,
          encode: { x: 0, y: 1 }, clip: false, silent: true,
        });
      } else if (r <= 4) {
        series.push({
          type: "scatter", xAxisIndex: xi, yAxisIndex: yi, data: scatterSets[r - 1][c], symbolSize: 5,
          itemStyle: { color: scatterColors[r - 1] }, silent: true,
        });
        if (c > 0) {
          series.push({
            type: "custom", xAxisIndex: xi, yAxisIndex: yi, data: [ellSets[r - 1][c - 1]], renderItem: ellipseItem,
            encode: { x: 0, y: 1 }, clip: false, silent: true,
          });
        }
      } else {
        const [start, counts] = hists[c] as [number, number[]];
        const bins = counts.map((n, k) => [start + k * BIN_W, start + (k + 1) * BIN_W, n]);
        series.push({
          type: "custom", xAxisIndex: xi, yAxisIndex: yi, data: bins, renderItem: histItem,
          encode: { x: [0, 1], y: 2 }, silent: true,
        });
      }
    }
  }

  const titleStyle = {
    fontFamily: FONT, fontSize: 16, fontWeight: "normal", color: "#000",
    rich: {
      n: { fontFamily: FONT, fontSize: 16, color: "#000" },
      i: { fontFamily: FONT, fontSize: 16, fontStyle: "italic", color: "#000" },
    },
  };
  const title = [
    { text: "{n|(a) }{i|T/U}{n|  = 0}", left: 96, top: 7, padding: 0, textStyle: titleStyle },
    { text: "{n|(b)  }{i|T/U}{n| = 0.06}", left: 465, top: 4, padding: 0, textStyle: titleStyle },
    { text: "{n|(}{i|c}{n|) }{i|T/U}{n| = 0.1}", left: 822, top: 4, padding: 0, textStyle: titleStyle },
  ];

  const breakY = ROWS[1].top + ROWS[1].height * (1 - 20 / 40);
  const graphic = [
    { type: "text", x: COLS[0].left, y: breakY, rotation: Math.PI / 2, style: { text: "≈", fontSize: 16, fontFamily: FONT, fill: "#000", align: "center", verticalAlign: "middle" } },
    { type: "text", x: COLS[0].left + COLS[0].width, y: breakY, rotation: Math.PI / 2, style: { text: "≈", fontSize: 16, fontFamily: FONT, fill: "#000", align: "center", verticalAlign: "middle" } },
  ];

  return { animation: false, backgroundColor: "#fff", title, grid, xAxis, yAxis, series, graphic };
}

export default function App() {
  const ref = useRef<HTMLDivElement>(null);
  useEffect(() => {
    if (!ref.current) return;
    const chart = echarts.init(ref.current, undefined, { renderer: "svg" });
    chart.setOption(buildOption() as any);
    return () => chart.dispose();
  }, []);
  return (
    <div
      ref={ref}
      style={{ position: "absolute", left: 0, top: 0, width: 1127, height: 900, background: "#fff" }}
    />
  );
}
